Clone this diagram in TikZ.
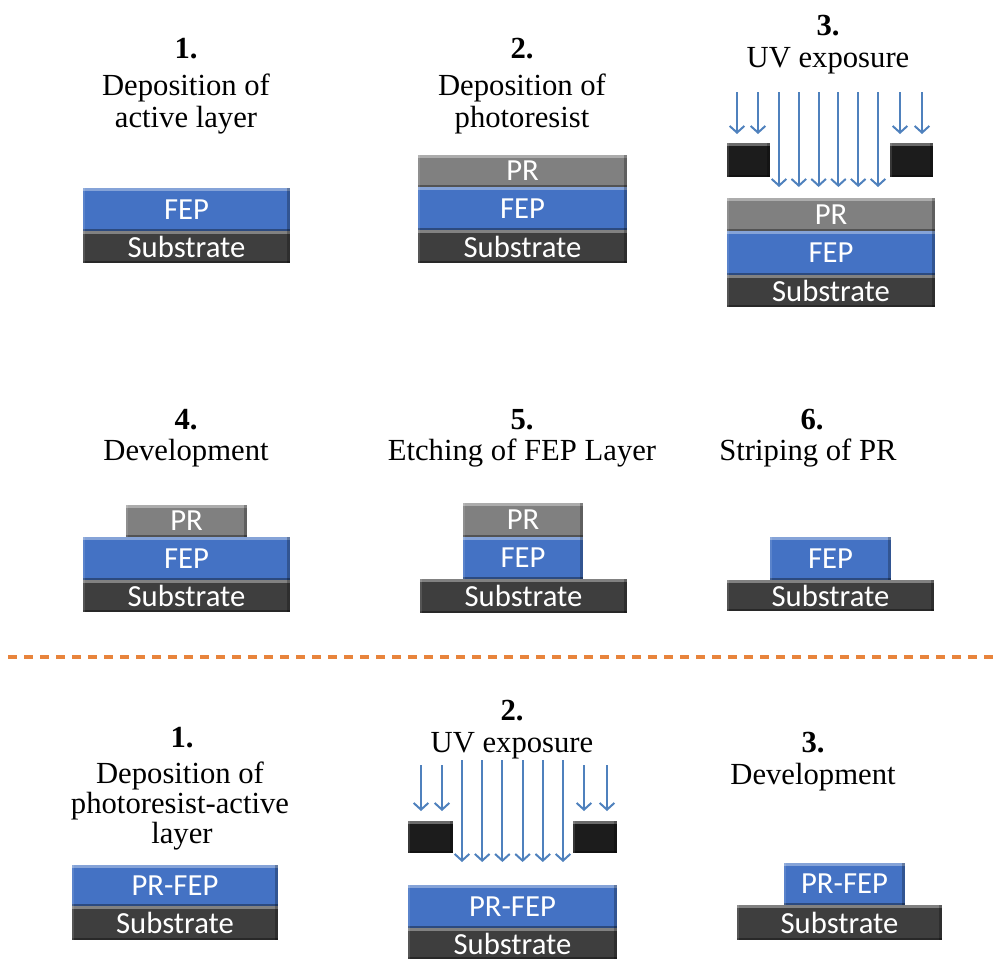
\documentclass[tikz,border=0pt]{standalone}
\usepackage{fontspec}
\setmainfont{Liberation Serif}
\newfontfamily\calibri{Carlito}
\usetikzlibrary{arrows.meta,fit}

\definecolor{fepblue}{RGB}{68,114,196}
\definecolor{prgray}{RGB}{128,128,128}
\definecolor{subgray}{RGB}{62,62,62}
\definecolor{maskblack}{RGB}{28,28,28}
\definecolor{uvblue}{RGB}{79,129,189}
\definecolor{cutorange}{RGB}{232,132,60}

\tikzset{
  lbl/.style={text=white, inner sep=0pt, font=\calibri\fontsize{23}{23}\selectfont},
  layer/.style={inner sep=0pt, draw=none,
    path picture={
      \fill[white,opacity=.35] (path picture bounding box.north west) rectangle ([yshift=-2.5pt]path picture bounding box.north east);
      \fill[black,opacity=.35] (path picture bounding box.south west) rectangle ([yshift=1.5pt]path picture bounding box.south east);
      \fill[black,opacity=.25] (path picture bounding box.north east) rectangle ([xshift=-2pt]path picture bounding box.south east);
      \fill[white,opacity=.12] (path picture bounding box.north west) rectangle ([xshift=1.5pt]path picture bounding box.south west);
    }},
  fep/.style={layer, fill=fepblue, label={[lbl]center:#1}},
  fep/.default=FEP,
  pr/.style={layer, fill=prgray, label={[lbl]center:PR}},
  sub/.style={layer, fill=subgray, label={[lbl]center:Substrate}},
  mask/.style={layer, fill=maskblack},
  title/.style={anchor=base, font=\fontsize{23}{23}\selectfont},
  num/.style={anchor=base, font=\fontsize{23}{23}\selectfont\bfseries},
  uv/.style={draw=uvblue, line width=1.5pt, -{Straight Barb[length=5pt,width=11pt]}},
}

\begin{document}
\begin{tikzpicture}[x=0.75pt,y=-0.75pt]
\useasboundingbox (0,0) rectangle (997,960);

% top row: steps 1--3
\node[num]   (n1)  at (186,58)  {1.};
\node[title] (t1a) at (186,95)  {Deposition of};
\node[title] (t1b) at (186,127) {active layer};
\node[fep, fit={(83,188) (290,231)}] (fep1) {};
\node[sub, fit={(83,231) (290,263)}] (sub1) {};

\node[num]   (n2)  at (522,58)  {2.};
\node[title] (t2a) at (522,95)  {Deposition of};
\node[title] (t2b) at (522,127) {photoresist};
\node[pr,  fit={(418,155) (627,187)}] (pr2)  {};
\node[fep, fit={(418,187) (627,230)}] (fep2) {};
\node[sub, fit={(418,230) (627,263)}] (sub2) {};

\node[num]   (n3)  at (828,36)  {3.};
\node[title] (t3)  at (828,67)  {UV exposure};
\foreach \x in {737,758,900,922}
  \draw[uv] (\x,92) -- (\x,134);
\foreach \i in {0,...,5}
  \draw[uv] ({779+19.8*\i},92) -- ({779+19.8*\i},187);
\node[mask, fit={(727,143) (770,177)}] (m3a) {};
\node[mask, fit={(890,143) (933,177)}] (m3b) {};
\node[pr,  fit={(727,198) (935,231)}] (pr3)  {};
\node[fep, fit={(727,231) (935,275)}] (fep3) {};
\node[sub, fit={(727,275) (935,307)}] (sub3) {};

% middle row: steps 4--6
\node[num]   (n4)  at (186,429) {4.};
\node[title] (t4)  at (186,460) {Development};
\node[pr,  fit={(126,505) (247,537)}] (pr4)  {};
\node[fep, fit={(83,537) (290,580)}]  (fep4) {};
\node[sub, fit={(83,580) (290,612)}]  (sub4) {};

\node[num]   (n5)  at (522,429) {5.};
\node[title] (t5)  at (522,460) {Etching of FEP Layer};
\node[pr,  fit={(463,503) (583,537)}] (pr5)  {};
\node[fep, fit={(463,537) (583,579)}] (fep5) {};
\node[sub, fit={(420,579) (627,613)}] (sub5) {};

\node[num]   (n6)  at (812,429) {6.};
\node[title] (t6)  at (808,460) {Striping of PR};
\node[fep, fit={(770,537) (891,580)}] (fep6) {};
\node[sub, fit={(727,580) (934,611)}] (sub6) {};

\draw[cutorange, line width=3pt, dash pattern=on 7pt off 5pt] (8,657) -- (997,657);

% bottom row: photoresist-active route
\node[num]   (p1)  at (182,747) {1.};
\node[title] (q1a) at (180,783) {Deposition of};
\node[title] (q1b) at (180,813) {photoresist-active};
\node[title] (q1c) at (182,843) {layer};
\node[fep=PR-FEP, fit={(72,865) (278,906)}] (pf1) {};
\node[sub, fit={(72,906) (278,940)}] (ps1) {};

\node[num]   (p2)  at (512,720) {2.};
\node[title] (q2)  at (512,752) {UV exposure};
\foreach \x in {421,442,584,607}
  \draw[uv] (\x,765) -- (\x,811);
\foreach \i in {0,...,5}
  \draw[uv] ({462+20.2*\i},760) -- ({462+20.2*\i},862);
\node[mask, fit={(408,821) (453,853)}] (pm2a) {};
\node[mask, fit={(573,821) (617,853)}] (pm2b) {};
\node[fep=PR-FEP, fit={(408,885) (617,928)}] (pf2) {};
\node[sub, fit={(408,928) (617,959)}] (ps2) {};

\node[num]   (p3)  at (813,752) {3.};
\node[title] (q3)  at (813,784) {Development};
\node[fep=PR-FEP, fit={(784,863) (905,905)}] (pf3) {};
\node[sub, fit={(737,905) (942,940)}] (ps3) {};
\end{tikzpicture}
\end{document}
